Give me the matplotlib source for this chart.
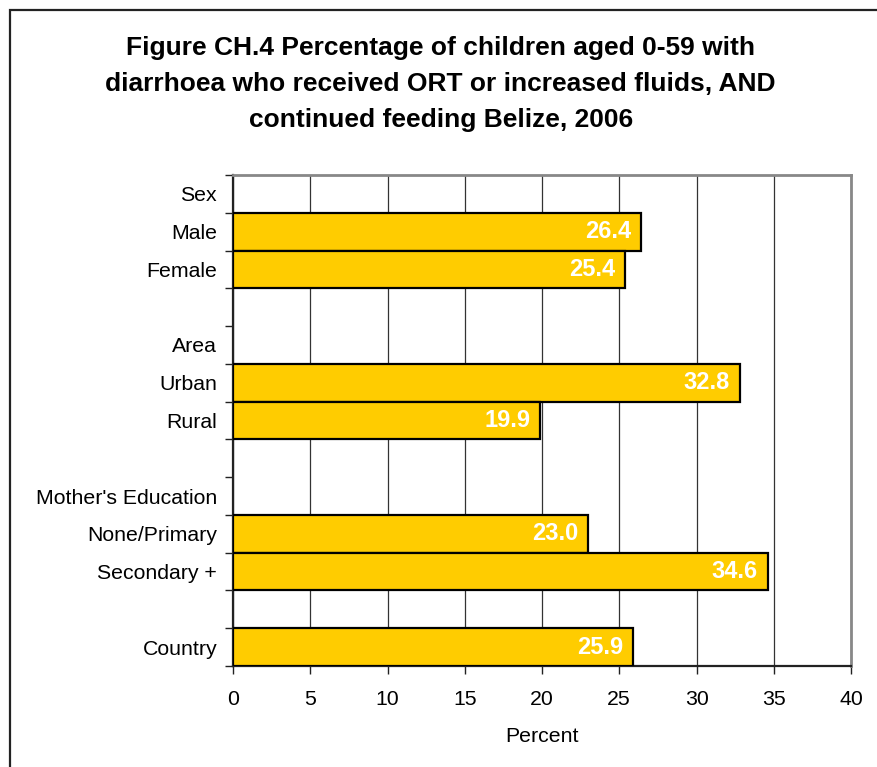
import numpy as np
import matplotlib
matplotlib.use("Agg")
import matplotlib.pyplot as plt
from matplotlib.patches import Rectangle

plt.rcParams["font.family"] = ["Liberation Sans", "DejaVu Sans"]

# Rows from top to bottom; group headers and spacer rows carry no value
row_labels = ["Sex", "Male", "Female", "",
              "Area", "Urban", "Rural", "",
              "Mother's Education", "None/Primary", "Secondary +", "",
              "Country"]
row_values = [None, 26.4, 25.4, None,
              None, 32.8, 19.9, None,
              None, 23.0, 34.6, None,
              25.9]
x_ticks = [0, 5, 10, 15, 20, 25, 30, 35, 40]

title = ("Figure CH.4 Percentage of children aged 0-59 with\n"
         "diarrhoea who received ORT or increased fluids, AND\n"
         "continued feeding Belize, 2006")

W, H = 877, 767
fig = plt.figure(figsize=(W / 100, H / 100), dpi=100)

# Frame around the chart area (extends past the right/bottom edges)
fig.patches.append(Rectangle((10 / W, -0.05), 1.2, 1 - 10 / H + 0.05,
                             transform=fig.transFigure, fill=False,
                             edgecolor="#222222", linewidth=1.6))

ax = fig.add_axes([233 / W, 1 - 666 / H, (851 - 233) / W, (666 - 175) / H])

n = len(row_labels)
pos = np.arange(n)
for y, v in zip(pos, row_values):
    if v is None:
        continue
    ax.barh(y, v, height=1.0, color="#FFCC00", edgecolor="black",
            linewidth=1.6, zorder=3)
    ax.annotate(f"{v:.1f}", xy=(v, y), xytext=(-7, 0),
                textcoords="offset points", ha="right", va="center",
                color="white", fontweight="bold", fontsize=17, zorder=4)

ax.set_xlim(0, 40)
ax.set_ylim(n - 0.5, -0.5)

ax.set_xticks(x_ticks)
ax.set_xticklabels([str(t) for t in x_ticks], fontsize=15.3)
ax.xaxis.grid(True, color="#333333", linewidth=0.9, zorder=0)
ax.set_axisbelow(True)

# Tick marks sit on row boundaries, labels at row centres
ax.set_yticks(np.arange(n + 1) - 0.5)
ax.set_yticklabels([])
ax.set_yticks(pos, minor=True)
ax.set_yticklabels(row_labels, minor=True, fontsize=15.3)
ax.tick_params(axis="y", which="major", direction="out", length=6,
               width=1.0, color="#222222")
ax.tick_params(axis="y", which="minor", length=0, pad=11.5)
ax.tick_params(axis="x", direction="out", length=6, width=1.0,
               color="#222222", pad=11)

ax.set_xlabel("Percent", fontsize=15.3, labelpad=13)

for side in ("left", "bottom"):
    ax.spines[side].set_color("#222222")
    ax.spines[side].set_linewidth(1.6)
for side in ("top", "right"):
    ax.spines[side].set_color("#888888")
    ax.spines[side].set_linewidth(2.0)

fig.text(0.5025, 1 - 84 / H, title, ha="center", va="center",
         fontsize=19, fontweight="bold", linespacing=1.63)

fig.savefig("out.png", dpi=100)
